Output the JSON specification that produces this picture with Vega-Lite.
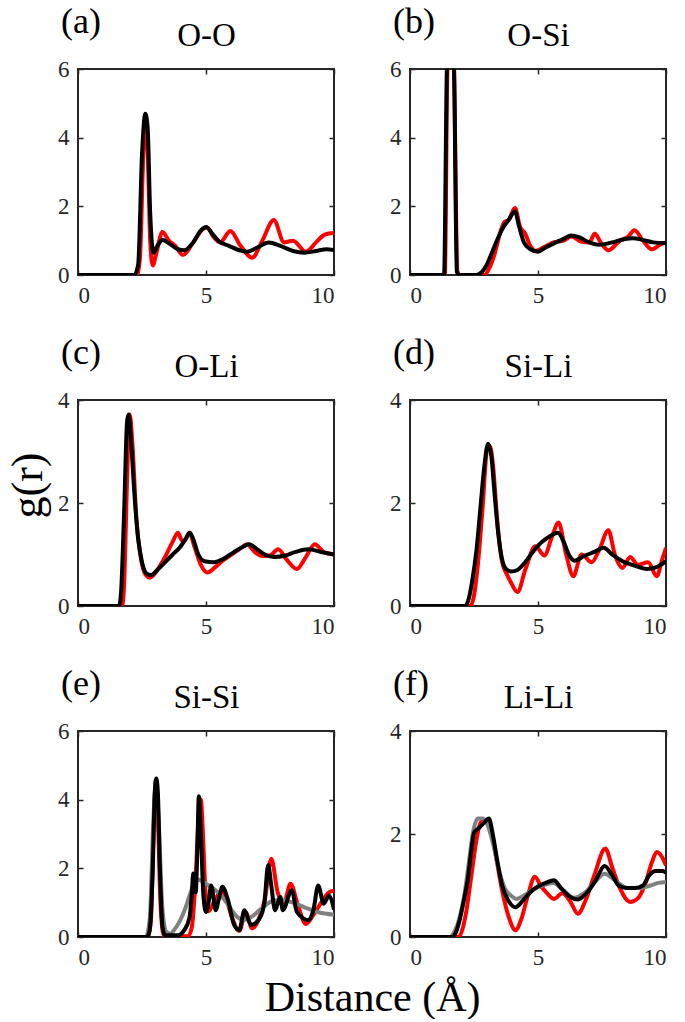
{
  "$schema": "https://vega.github.io/schema/vega-lite/v6.json",
  "background": "white",
  "padding": {"left": 5, "top": 3, "right": 10, "bottom": 0},
  "config": {
    "view": {"stroke": "#262626", "strokeWidth": 2},
    "font": "Liberation Serif",
    "axis": {"domain": false, "grid": false, "labelFont": "Liberation Serif", "labelFontSize": 23, "labelColor": "#262626", "tickColor": "#262626", "tickSize": -5, "tickWidth": 1.5, "labelPadding": 14, "titleFont": "Liberation Serif", "titleFontWeight": "normal", "titleColor": "#000000", "titleFontSize": 33},
    "title": {"font": "Liberation Serif", "fontWeight": "normal", "fontSize": 36, "color": "#000000"}
  },
  "title": {"text": "Distance (Å)", "orient": "bottom", "anchor": "middle", "font": "Liberation Serif", "fontWeight": "normal", "fontSize": 42, "color": "#000000", "dx": 36, "offset": 8},
  "columns": 2,
  "spacing": {"row": 26, "column": 52},
  "datasets": {
    "a": [
      {"s":"red","r":0,"g":0},{"s":"red","r":2.3,"g":0},{"s":"red","r":2.42,"g":0.5},{"s":"red","r":2.55,"g":3.5},{"s":"red","r":2.63,"g":4.5},{"s":"red","r":2.72,"g":3.6},{"s":"red","r":2.82,"g":1.0},{"s":"red","r":2.92,"g":0.28},{"s":"red","r":3.05,"g":0.6},{"s":"red","r":3.3,"g":1.25},{"s":"red","r":3.55,"g":1.0},{"s":"red","r":3.8,"g":0.85},{"s":"red","r":4.1,"g":0.58},{"s":"red","r":4.5,"g":0.95},{"s":"red","r":4.9,"g":1.35},{"s":"red","r":5.05,"g":1.38},{"s":"red","r":5.3,"g":1.1},{"s":"red","r":5.55,"g":0.95},{"s":"red","r":5.95,"g":1.28},{"s":"red","r":6.35,"g":0.85},{"s":"red","r":6.8,"g":0.5},{"s":"red","r":7.2,"g":1.0},{"s":"red","r":7.65,"g":1.6},{"s":"red","r":8.05,"g":0.95},{"s":"red","r":8.4,"g":1.0},{"s":"red","r":8.9,"g":0.68},{"s":"red","r":9.3,"g":0.95},{"s":"red","r":9.65,"g":1.18},{"s":"red","r":10,"g":1.22},
      {"s":"black","r":0,"g":0},{"s":"black","r":2.2,"g":0},{"s":"black","r":2.35,"g":0.3},{"s":"black","r":2.5,"g":3.5},{"s":"black","r":2.63,"g":4.7},{"s":"black","r":2.72,"g":4.3},{"s":"black","r":2.82,"g":1.8},{"s":"black","r":2.95,"g":0.65},{"s":"black","r":3.1,"g":0.85},{"s":"black","r":3.3,"g":1.02},{"s":"black","r":3.6,"g":0.9},{"s":"black","r":3.9,"g":0.75},{"s":"black","r":4.15,"g":0.72},{"s":"black","r":4.5,"g":0.95},{"s":"black","r":4.8,"g":1.3},{"s":"black","r":5.0,"g":1.4},{"s":"black","r":5.25,"g":1.2},{"s":"black","r":5.5,"g":0.98},{"s":"black","r":5.9,"g":0.85},{"s":"black","r":6.3,"g":0.72},{"s":"black","r":6.6,"g":0.68},{"s":"black","r":7.0,"g":0.8},{"s":"black","r":7.45,"g":0.95},{"s":"black","r":7.9,"g":0.85},{"s":"black","r":8.4,"g":0.7},{"s":"black","r":8.85,"g":0.65},{"s":"black","r":9.3,"g":0.7},{"s":"black","r":9.7,"g":0.75},{"s":"black","r":10,"g":0.73}
    ],
    "b": [
      {"s":"red","r":0,"g":0},{"s":"red","r":1.36,"g":0},{"s":"red","r":1.46,"g":6},{"s":"red","r":1.58,"g":8},{"s":"red","r":1.72,"g":6},{"s":"red","r":1.85,"g":0.1},{"s":"red","r":1.95,"g":0},{"s":"red","r":2.9,"g":0},{"s":"red","r":3.1,"g":0.2},{"s":"red","r":3.3,"g":0.6},{"s":"red","r":3.55,"g":1.3},{"s":"red","r":3.7,"g":1.55},{"s":"red","r":3.85,"g":1.6},{"s":"red","r":4.1,"g":1.95},{"s":"red","r":4.3,"g":1.4},{"s":"red","r":4.5,"g":1.2},{"s":"red","r":4.7,"g":0.85},{"s":"red","r":4.9,"g":0.7},{"s":"red","r":5.2,"g":0.8},{"s":"red","r":5.6,"g":0.95},{"s":"red","r":6.0,"g":1.0},{"s":"red","r":6.3,"g":1.12},{"s":"red","r":6.7,"g":0.97},{"s":"red","r":7.0,"g":0.95},{"s":"red","r":7.22,"g":1.2},{"s":"red","r":7.45,"g":0.95},{"s":"red","r":7.75,"g":0.72},{"s":"red","r":8.2,"g":1.0},{"s":"red","r":8.5,"g":1.1},{"s":"red","r":8.77,"g":1.3},{"s":"red","r":9.1,"g":1.0},{"s":"red","r":9.45,"g":0.75},{"s":"red","r":9.8,"g":0.9},{"s":"red","r":10,"g":0.95},
      {"s":"black","r":0,"g":0},{"s":"black","r":1.33,"g":0},{"s":"black","r":1.44,"g":6},{"s":"black","r":1.58,"g":8},{"s":"black","r":1.72,"g":6},{"s":"black","r":1.83,"g":0.1},{"s":"black","r":1.92,"g":0},{"s":"black","r":2.6,"g":0},{"s":"black","r":2.8,"g":0.08},{"s":"black","r":3.0,"g":0.3},{"s":"black","r":3.2,"g":0.65},{"s":"black","r":3.45,"g":1.1},{"s":"black","r":3.65,"g":1.4},{"s":"black","r":3.85,"g":1.6},{"s":"black","r":4.1,"g":1.85},{"s":"black","r":4.25,"g":1.45},{"s":"black","r":4.45,"g":0.95},{"s":"black","r":4.7,"g":0.75},{"s":"black","r":5.0,"g":0.68},{"s":"black","r":5.3,"g":0.8},{"s":"black","r":5.7,"g":0.95},{"s":"black","r":6.0,"g":1.05},{"s":"black","r":6.3,"g":1.15},{"s":"black","r":6.6,"g":1.1},{"s":"black","r":7.0,"g":0.95},{"s":"black","r":7.4,"g":0.88},{"s":"black","r":7.9,"g":0.95},{"s":"black","r":8.4,"g":1.05},{"s":"black","r":8.7,"g":1.07},{"s":"black","r":9.1,"g":1.02},{"s":"black","r":9.5,"g":0.95},{"s":"black","r":10,"g":0.93}
    ],
    "c": [
      {"s":"red","r":0,"g":0},{"s":"red","r":1.72,"g":0},{"s":"red","r":1.8,"g":0.4},{"s":"red","r":1.92,"g":2.5},{"s":"red","r":2.02,"g":3.72},{"s":"red","r":2.12,"g":3.2},{"s":"red","r":2.28,"g":1.7},{"s":"red","r":2.45,"g":0.95},{"s":"red","r":2.65,"g":0.6},{"s":"red","r":2.8,"g":0.55},{"s":"red","r":3.1,"g":0.7},{"s":"red","r":3.4,"g":0.95},{"s":"red","r":3.7,"g":1.25},{"s":"red","r":3.9,"g":1.42},{"s":"red","r":4.05,"g":1.28},{"s":"red","r":4.15,"g":1.26},{"s":"red","r":4.35,"g":1.42},{"s":"red","r":4.55,"g":1.15},{"s":"red","r":4.8,"g":0.8},{"s":"red","r":5.05,"g":0.65},{"s":"red","r":5.35,"g":0.75},{"s":"red","r":5.65,"g":0.88},{"s":"red","r":6.0,"g":1.0},{"s":"red","r":6.35,"g":1.12},{"s":"red","r":6.6,"g":1.2},{"s":"red","r":6.9,"g":1.05},{"s":"red","r":7.2,"g":0.97},{"s":"red","r":7.5,"g":0.98},{"s":"red","r":7.82,"g":1.1},{"s":"red","r":8.15,"g":0.9},{"s":"red","r":8.55,"g":0.72},{"s":"red","r":8.9,"g":0.95},{"s":"red","r":9.25,"g":1.2},{"s":"red","r":9.6,"g":1.05},{"s":"red","r":10,"g":1.0},
      {"s":"black","r":0,"g":0},{"s":"black","r":1.6,"g":0},{"s":"black","r":1.68,"g":0.25},{"s":"black","r":1.8,"g":1.8},{"s":"black","r":1.92,"g":3.6},{"s":"black","r":1.98,"g":3.72},{"s":"black","r":2.06,"g":3.3},{"s":"black","r":2.2,"g":2.2},{"s":"black","r":2.35,"g":1.3},{"s":"black","r":2.5,"g":0.85},{"s":"black","r":2.7,"g":0.62},{"s":"black","r":2.85,"g":0.6},{"s":"black","r":3.1,"g":0.7},{"s":"black","r":3.4,"g":0.85},{"s":"black","r":3.7,"g":1.0},{"s":"black","r":4.0,"g":1.15},{"s":"black","r":4.2,"g":1.3},{"s":"black","r":4.37,"g":1.42},{"s":"black","r":4.5,"g":1.3},{"s":"black","r":4.7,"g":1.0},{"s":"black","r":4.95,"g":0.87},{"s":"black","r":5.3,"g":0.85},{"s":"black","r":5.7,"g":0.92},{"s":"black","r":6.1,"g":1.05},{"s":"black","r":6.45,"g":1.15},{"s":"black","r":6.68,"g":1.2},{"s":"black","r":7.0,"g":1.1},{"s":"black","r":7.3,"g":1.0},{"s":"black","r":7.65,"g":0.95},{"s":"black","r":8.1,"g":0.98},{"s":"black","r":8.5,"g":1.05},{"s":"black","r":9.0,"g":1.1},{"s":"black","r":9.5,"g":1.05},{"s":"black","r":10,"g":1.0}
    ],
    "d": [
      {"s":"red","r":0,"g":0},{"s":"red","r":2.35,"g":0},{"s":"red","r":2.5,"g":0.2},{"s":"red","r":2.65,"g":0.8},{"s":"red","r":2.85,"g":2.0},{"s":"red","r":3.0,"g":3.0},{"s":"red","r":3.12,"g":3.1},{"s":"red","r":3.25,"g":2.7},{"s":"red","r":3.4,"g":1.7},{"s":"red","r":3.6,"g":0.85},{"s":"red","r":3.8,"g":0.6},{"s":"red","r":3.95,"g":0.45},{"s":"red","r":4.2,"g":0.27},{"s":"red","r":4.5,"g":0.7},{"s":"red","r":4.9,"g":1.16},{"s":"red","r":5.25,"g":0.98},{"s":"red","r":5.55,"g":1.35},{"s":"red","r":5.8,"g":1.62},{"s":"red","r":6.1,"g":1.0},{"s":"red","r":6.38,"g":0.58},{"s":"red","r":6.7,"g":1.0},{"s":"red","r":7.1,"g":0.85},{"s":"red","r":7.4,"g":1.1},{"s":"red","r":7.75,"g":1.47},{"s":"red","r":8.0,"g":1.0},{"s":"red","r":8.3,"g":0.74},{"s":"red","r":8.6,"g":0.95},{"s":"red","r":8.9,"g":0.8},{"s":"red","r":9.3,"g":0.85},{"s":"red","r":9.64,"g":0.58},{"s":"red","r":9.85,"g":0.9},{"s":"red","r":10,"g":1.13},
      {"s":"black","r":0,"g":0},{"s":"black","r":2.15,"g":0},{"s":"black","r":2.3,"g":0.15},{"s":"black","r":2.45,"g":0.55},{"s":"black","r":2.6,"g":1.1},{"s":"black","r":2.75,"g":1.9},{"s":"black","r":2.9,"g":2.7},{"s":"black","r":3.05,"g":3.15},{"s":"black","r":3.18,"g":2.9},{"s":"black","r":3.3,"g":2.2},{"s":"black","r":3.45,"g":1.4},{"s":"black","r":3.6,"g":0.9},{"s":"black","r":3.75,"g":0.72},{"s":"black","r":3.95,"g":0.67},{"s":"black","r":4.2,"g":0.7},{"s":"black","r":4.5,"g":0.85},{"s":"black","r":4.8,"g":1.05},{"s":"black","r":5.1,"g":1.22},{"s":"black","r":5.45,"g":1.35},{"s":"black","r":5.78,"g":1.42},{"s":"black","r":6.0,"g":1.25},{"s":"black","r":6.2,"g":1.0},{"s":"black","r":6.43,"g":0.88},{"s":"black","r":6.8,"g":0.97},{"s":"black","r":7.2,"g":1.05},{"s":"black","r":7.56,"g":1.13},{"s":"black","r":7.9,"g":1.0},{"s":"black","r":8.3,"g":0.87},{"s":"black","r":8.8,"g":0.78},{"s":"black","r":9.25,"g":0.72},{"s":"black","r":9.6,"g":0.75},{"s":"black","r":10,"g":0.87}
    ],
    "e": [
      {"s":"red","r":0,"g":0},{"s":"red","r":2.72,"g":0},{"s":"red","r":2.85,"g":0.5},{"s":"red","r":2.95,"g":3.0},{"s":"red","r":3.04,"g":4.55},{"s":"red","r":3.12,"g":3.5},{"s":"red","r":3.22,"g":1.0},{"s":"red","r":3.35,"g":0.05},{"s":"red","r":4.3,"g":0.02},{"s":"red","r":4.45,"g":0.3},{"s":"red","r":4.6,"g":1.8},{"s":"red","r":4.72,"g":3.6},{"s":"red","r":4.8,"g":4.0},{"s":"red","r":4.88,"g":3.0},{"s":"red","r":4.98,"g":1.3},{"s":"red","r":5.1,"g":0.75},{"s":"red","r":5.3,"g":1.0},{"s":"red","r":5.6,"g":1.35},{"s":"red","r":5.8,"g":1.1},{"s":"red","r":6.0,"g":0.6},{"s":"red","r":6.3,"g":0.18},{"s":"red","r":6.55,"g":0.72},{"s":"red","r":6.8,"g":0.25},{"s":"red","r":7.05,"g":0.5},{"s":"red","r":7.3,"g":1.1},{"s":"red","r":7.55,"g":2.28},{"s":"red","r":7.8,"g":1.3},{"s":"red","r":8.05,"g":1.0},{"s":"red","r":8.3,"g":1.55},{"s":"red","r":8.6,"g":0.9},{"s":"red","r":8.9,"g":0.38},{"s":"red","r":9.2,"g":0.65},{"s":"red","r":9.5,"g":1.0},{"s":"red","r":9.8,"g":1.3},{"s":"red","r":10,"g":1.35},
      {"s":"gray","r":0,"g":0},{"s":"gray","r":2.65,"g":0},{"s":"gray","r":2.8,"g":0.5},{"s":"gray","r":2.95,"g":3.5},{"s":"gray","r":3.05,"g":4.6},{"s":"gray","r":3.15,"g":3.4},{"s":"gray","r":3.3,"g":0.8},{"s":"gray","r":3.45,"g":0.15},{"s":"gray","r":3.6,"g":0.1},{"s":"gray","r":3.8,"g":0.25},{"s":"gray","r":4.0,"g":0.5},{"s":"gray","r":4.2,"g":0.85},{"s":"gray","r":4.4,"g":1.3},{"s":"gray","r":4.65,"g":1.68},{"s":"gray","r":5.0,"g":1.55},{"s":"gray","r":5.3,"g":1.4},{"s":"gray","r":5.6,"g":1.2},{"s":"gray","r":5.9,"g":0.9},{"s":"gray","r":6.2,"g":0.6},{"s":"gray","r":6.5,"g":0.5},{"s":"gray","r":6.8,"g":0.6},{"s":"gray","r":7.2,"g":0.85},{"s":"gray","r":7.6,"g":1.05},{"s":"gray","r":8.0,"g":1.08},{"s":"gray","r":8.4,"g":1.0},{"s":"gray","r":8.9,"g":0.85},{"s":"gray","r":9.4,"g":0.72},{"s":"gray","r":10,"g":0.65},
      {"s":"black","r":0,"g":0},{"s":"black","r":2.7,"g":0},{"s":"black","r":2.8,"g":0.2},{"s":"black","r":2.92,"g":2.0},{"s":"black","r":3.0,"g":4.2},{"s":"black","r":3.06,"g":4.62},{"s":"black","r":3.12,"g":4.2},{"s":"black","r":3.2,"g":2.0},{"s":"black","r":3.3,"g":0.3},{"s":"black","r":3.4,"g":0.05},{"s":"black","r":3.9,"g":0.05},{"s":"black","r":4.15,"g":0.2},{"s":"black","r":4.35,"g":0.55},{"s":"black","r":4.45,"g":1.3},{"s":"black","r":4.5,"g":1.85},{"s":"black","r":4.6,"g":1.3},{"s":"black","r":4.66,"g":2.5},{"s":"black","r":4.72,"g":4.1},{"s":"black","r":4.8,"g":3.0},{"s":"black","r":4.9,"g":1.2},{"s":"black","r":5.0,"g":0.73},{"s":"black","r":5.1,"g":1.0},{"s":"black","r":5.2,"g":1.5},{"s":"black","r":5.38,"g":0.78},{"s":"black","r":5.5,"g":1.1},{"s":"black","r":5.64,"g":1.46},{"s":"black","r":5.85,"g":1.1},{"s":"black","r":6.1,"g":0.35},{"s":"black","r":6.3,"g":0.2},{"s":"black","r":6.5,"g":0.78},{"s":"black","r":6.76,"g":0.35},{"s":"black","r":7.1,"g":0.55},{"s":"black","r":7.28,"g":1.0},{"s":"black","r":7.43,"g":2.1},{"s":"black","r":7.55,"g":1.5},{"s":"black","r":7.7,"g":0.78},{"s":"black","r":7.9,"g":1.17},{"s":"black","r":8.0,"g":0.78},{"s":"black","r":8.35,"g":1.36},{"s":"black","r":8.55,"g":0.73},{"s":"black","r":9.0,"g":0.49},{"s":"black","r":9.2,"g":0.8},{"s":"black","r":9.38,"g":1.5},{"s":"black","r":9.6,"g":0.97},{"s":"black","r":9.8,"g":1.2},{"s":"black","r":10,"g":0.8}
    ],
    "f": [
      {"s":"red","r":0,"g":0},{"s":"red","r":1.9,"g":0},{"s":"red","r":2.05,"g":0.15},{"s":"red","r":2.2,"g":0.5},{"s":"red","r":2.4,"g":1.2},{"s":"red","r":2.6,"g":1.9},{"s":"red","r":2.8,"g":2.25},{"s":"red","r":3.0,"g":2.25},{"s":"red","r":3.2,"g":2.0},{"s":"red","r":3.4,"g":1.45},{"s":"red","r":3.6,"g":0.9},{"s":"red","r":3.85,"g":0.4},{"s":"red","r":4.12,"g":0.13},{"s":"red","r":4.35,"g":0.35},{"s":"red","r":4.6,"g":0.8},{"s":"red","r":4.88,"g":1.17},{"s":"red","r":5.1,"g":1.0},{"s":"red","r":5.35,"g":0.85},{"s":"red","r":5.62,"g":0.74},{"s":"red","r":5.95,"g":0.85},{"s":"red","r":6.25,"g":0.7},{"s":"red","r":6.56,"g":0.45},{"s":"red","r":6.85,"g":0.7},{"s":"red","r":7.2,"g":1.2},{"s":"red","r":7.63,"g":1.72},{"s":"red","r":7.9,"g":1.35},{"s":"red","r":8.2,"g":0.95},{"s":"red","r":8.6,"g":0.68},{"s":"red","r":8.9,"g":0.75},{"s":"red","r":9.2,"g":1.05},{"s":"red","r":9.45,"g":1.45},{"s":"red","r":9.64,"g":1.65},{"s":"red","r":9.85,"g":1.55},{"s":"red","r":10,"g":1.39},
      {"s":"gray","r":0,"g":0},{"s":"gray","r":1.55,"g":0},{"s":"gray","r":1.75,"g":0.12},{"s":"gray","r":1.95,"g":0.4},{"s":"gray","r":2.15,"g":0.9},{"s":"gray","r":2.3,"g":1.45},{"s":"gray","r":2.45,"g":2.0},{"s":"gray","r":2.65,"g":2.3},{"s":"gray","r":2.85,"g":2.3},{"s":"gray","r":3.05,"g":2.15},{"s":"gray","r":3.25,"g":1.8},{"s":"gray","r":3.45,"g":1.35},{"s":"gray","r":3.7,"g":0.95},{"s":"gray","r":3.95,"g":0.8},{"s":"gray","r":4.15,"g":0.74},{"s":"gray","r":4.5,"g":0.82},{"s":"gray","r":4.9,"g":0.95},{"s":"gray","r":5.3,"g":1.02},{"s":"gray","r":5.6,"g":1.05},{"s":"gray","r":6.0,"g":0.9},{"s":"gray","r":6.4,"g":0.76},{"s":"gray","r":6.8,"g":0.85},{"s":"gray","r":7.2,"g":1.05},{"s":"gray","r":7.6,"g":1.23},{"s":"gray","r":8.0,"g":1.1},{"s":"gray","r":8.5,"g":0.95},{"s":"gray","r":9.0,"g":0.95},{"s":"gray","r":9.4,"g":1.0},{"s":"gray","r":9.7,"g":1.05},{"s":"gray","r":10,"g":1.07},
      {"s":"black","r":0,"g":0},{"s":"black","r":1.65,"g":0},{"s":"black","r":1.8,"g":0.1},{"s":"black","r":1.95,"g":0.35},{"s":"black","r":2.1,"g":0.7},{"s":"black","r":2.25,"g":1.1},{"s":"black","r":2.4,"g":1.7},{"s":"black","r":2.5,"g":2.02},{"s":"black","r":2.7,"g":2.12},{"s":"black","r":2.9,"g":2.22},{"s":"black","r":3.08,"g":2.3},{"s":"black","r":3.25,"g":1.95},{"s":"black","r":3.42,"g":1.45},{"s":"black","r":3.6,"g":1.0},{"s":"black","r":3.85,"g":0.7},{"s":"black","r":4.12,"g":0.58},{"s":"black","r":4.4,"g":0.7},{"s":"black","r":4.7,"g":0.87},{"s":"black","r":5.0,"g":0.98},{"s":"black","r":5.3,"g":1.05},{"s":"black","r":5.62,"g":1.1},{"s":"black","r":5.9,"g":0.95},{"s":"black","r":6.2,"g":0.8},{"s":"black","r":6.55,"g":0.73},{"s":"black","r":6.9,"g":0.85},{"s":"black","r":7.25,"g":1.1},{"s":"black","r":7.6,"g":1.38},{"s":"black","r":7.9,"g":1.2},{"s":"black","r":8.15,"g":1.0},{"s":"black","r":8.45,"g":0.95},{"s":"black","r":8.8,"g":0.95},{"s":"black","r":9.1,"g":1.0},{"s":"black","r":9.35,"g":1.2},{"s":"black","r":9.6,"g":1.28},{"s":"black","r":9.85,"g":1.28},{"s":"black","r":10,"g":1.25}
    ]
  },
  "concat": [
    {
      "width": 256, "height": 206, "data": {"name": "a"},
      "title": {"text": "(a)", "anchor": "start", "frame": "group", "dx": -17, "offset": -22},
      "resolve": {"axis": {"x": "independent", "y": "independent"}},
      "layer": [
        {"transform": [{"filter": "datum.s === 'red'"}], "mark": {"type": "line", "color": "#ff0000", "strokeWidth": 4, "clip": true, "interpolate": "monotone"},
         "encoding": {"x": {"field": "r", "type": "quantitative", "scale": {"domain": [0, 10], "nice": false}, "axis": {"values": [0, 5, 10], "title": null, "orient": "bottom"}},
                      "y": {"field": "g", "type": "quantitative", "scale": {"domain": [0, 6], "nice": false}, "axis": {"values": [0, 2, 4, 6], "title": null, "orient": "left"}}}},
        {"transform": [{"filter": "datum.s === 'black'"}], "mark": {"type": "line", "color": "#000000", "strokeWidth": 4, "clip": true, "interpolate": "monotone"},
         "encoding": {"x": {"field": "r", "type": "quantitative", "axis": {"values": [0, 5, 10], "title": "O-O", "orient": "top", "labels": false, "titlePadding": 16}},
                      "y": {"field": "g", "type": "quantitative", "axis": {"values": [0, 2, 4, 6], "title": null, "orient": "right", "labels": false}}}}
      ]
    },
    {
      "width": 256, "height": 206, "data": {"name": "b"},
      "title": {"text": "(b)", "anchor": "start", "frame": "group", "dx": -17, "offset": -22},
      "resolve": {"axis": {"x": "independent", "y": "independent"}},
      "layer": [
        {"transform": [{"filter": "datum.s === 'red'"}], "mark": {"type": "line", "color": "#ff0000", "strokeWidth": 4, "clip": true, "interpolate": "monotone"},
         "encoding": {"x": {"field": "r", "type": "quantitative", "scale": {"domain": [0, 10], "nice": false}, "axis": {"values": [0, 5, 10], "title": null, "orient": "bottom"}},
                      "y": {"field": "g", "type": "quantitative", "scale": {"domain": [0, 6], "nice": false}, "axis": {"values": [0, 2, 4, 6], "title": null, "orient": "left"}}}},
        {"transform": [{"filter": "datum.s === 'black'"}], "mark": {"type": "line", "color": "#000000", "strokeWidth": 4, "clip": true, "interpolate": "monotone"},
         "encoding": {"x": {"field": "r", "type": "quantitative", "axis": {"values": [0, 5, 10], "title": "O-Si", "orient": "top", "labels": false, "titlePadding": 16}},
                      "y": {"field": "g", "type": "quantitative", "axis": {"values": [0, 2, 4, 6], "title": null, "orient": "right", "labels": false}}}}
      ]
    },
    {
      "width": 256, "height": 206, "data": {"name": "c"},
      "title": {"text": "(c)", "anchor": "start", "frame": "group", "dx": -17, "offset": -22},
      "resolve": {"axis": {"x": "independent", "y": "independent"}},
      "layer": [
        {"transform": [{"filter": "datum.s === 'red'"}], "mark": {"type": "line", "color": "#ff0000", "strokeWidth": 4, "clip": true, "interpolate": "monotone"},
         "encoding": {"x": {"field": "r", "type": "quantitative", "scale": {"domain": [0, 10], "nice": false}, "axis": {"values": [0, 5, 10], "title": null, "orient": "bottom"}},
                      "y": {"field": "g", "type": "quantitative", "scale": {"domain": [0, 4], "nice": false}, "axis": {"values": [0, 2, 4], "title": "g(r)", "orient": "left", "titleFontSize": 44, "titlePadding": 7, "titleY": 85}}}},
        {"transform": [{"filter": "datum.s === 'black'"}], "mark": {"type": "line", "color": "#000000", "strokeWidth": 4, "clip": true, "interpolate": "monotone"},
         "encoding": {"x": {"field": "r", "type": "quantitative", "axis": {"values": [0, 5, 10], "title": "O-Li", "orient": "top", "labels": false, "titlePadding": 16}},
                      "y": {"field": "g", "type": "quantitative", "axis": {"values": [0, 2, 4], "title": null, "orient": "right", "labels": false}}}}
      ]
    },
    {
      "width": 256, "height": 206, "data": {"name": "d"},
      "title": {"text": "(d)", "anchor": "start", "frame": "group", "dx": -17, "offset": -22},
      "resolve": {"axis": {"x": "independent", "y": "independent"}},
      "layer": [
        {"transform": [{"filter": "datum.s === 'red'"}], "mark": {"type": "line", "color": "#ff0000", "strokeWidth": 4, "clip": true, "interpolate": "monotone"},
         "encoding": {"x": {"field": "r", "type": "quantitative", "scale": {"domain": [0, 10], "nice": false}, "axis": {"values": [0, 5, 10], "title": null, "orient": "bottom"}},
                      "y": {"field": "g", "type": "quantitative", "scale": {"domain": [0, 4], "nice": false}, "axis": {"values": [0, 2, 4], "title": null, "orient": "left"}}}},
        {"transform": [{"filter": "datum.s === 'black'"}], "mark": {"type": "line", "color": "#000000", "strokeWidth": 4, "clip": true, "interpolate": "monotone"},
         "encoding": {"x": {"field": "r", "type": "quantitative", "axis": {"values": [0, 5, 10], "title": "Si-Li", "orient": "top", "labels": false, "titlePadding": 16}},
                      "y": {"field": "g", "type": "quantitative", "axis": {"values": [0, 2, 4], "title": null, "orient": "right", "labels": false}}}}
      ]
    },
    {
      "width": 256, "height": 206, "data": {"name": "e"},
      "title": {"text": "(e)", "anchor": "start", "frame": "group", "dx": -17, "offset": -22},
      "resolve": {"axis": {"x": "independent", "y": "independent"}},
      "layer": [
        {"transform": [{"filter": "datum.s === 'red'"}], "mark": {"type": "line", "color": "#ff0000", "strokeWidth": 4, "clip": true, "interpolate": "monotone"},
         "encoding": {"x": {"field": "r", "type": "quantitative", "scale": {"domain": [0, 10], "nice": false}, "axis": {"values": [0, 5, 10], "title": null, "orient": "bottom"}},
                      "y": {"field": "g", "type": "quantitative", "scale": {"domain": [0, 6], "nice": false}, "axis": {"values": [0, 2, 4, 6], "title": null, "orient": "left"}}}},
        {"transform": [{"filter": "datum.s === 'gray'"}], "mark": {"type": "line", "color": "#808080", "strokeWidth": 4, "clip": true, "interpolate": "monotone"},
         "encoding": {"x": {"field": "r", "type": "quantitative", "axis": null},
                      "y": {"field": "g", "type": "quantitative", "axis": null}}},
        {"transform": [{"filter": "datum.s === 'black'"}], "mark": {"type": "line", "color": "#000000", "strokeWidth": 4, "clip": true, "interpolate": "monotone"},
         "encoding": {"x": {"field": "r", "type": "quantitative", "axis": {"values": [0, 5, 10], "title": "Si-Si", "orient": "top", "labels": false, "titlePadding": 16}},
                      "y": {"field": "g", "type": "quantitative", "axis": {"values": [0, 2, 4, 6], "title": null, "orient": "right", "labels": false}}}}
      ]
    },
    {
      "width": 256, "height": 206, "data": {"name": "f"},
      "title": {"text": "(f)", "anchor": "start", "frame": "group", "dx": -17, "offset": -22},
      "resolve": {"axis": {"x": "independent", "y": "independent"}},
      "layer": [
        {"transform": [{"filter": "datum.s === 'red'"}], "mark": {"type": "line", "color": "#ff0000", "strokeWidth": 4, "clip": true, "interpolate": "monotone"},
         "encoding": {"x": {"field": "r", "type": "quantitative", "scale": {"domain": [0, 10], "nice": false}, "axis": {"values": [0, 5, 10], "title": null, "orient": "bottom"}},
                      "y": {"field": "g", "type": "quantitative", "scale": {"domain": [0, 4], "nice": false}, "axis": {"values": [0, 2, 4], "title": null, "orient": "left"}}}},
        {"transform": [{"filter": "datum.s === 'gray'"}], "mark": {"type": "line", "color": "#808080", "strokeWidth": 4, "clip": true, "interpolate": "monotone"},
         "encoding": {"x": {"field": "r", "type": "quantitative", "axis": null},
                      "y": {"field": "g", "type": "quantitative", "axis": null}}},
        {"transform": [{"filter": "datum.s === 'black'"}], "mark": {"type": "line", "color": "#000000", "strokeWidth": 4, "clip": true, "interpolate": "monotone"},
         "encoding": {"x": {"field": "r", "type": "quantitative", "axis": {"values": [0, 5, 10], "title": "Li-Li", "orient": "top", "labels": false, "titlePadding": 16}},
                      "y": {"field": "g", "type": "quantitative", "axis": {"values": [0, 2, 4], "title": null, "orient": "right", "labels": false}}}}
      ]
    }
  ]
}
